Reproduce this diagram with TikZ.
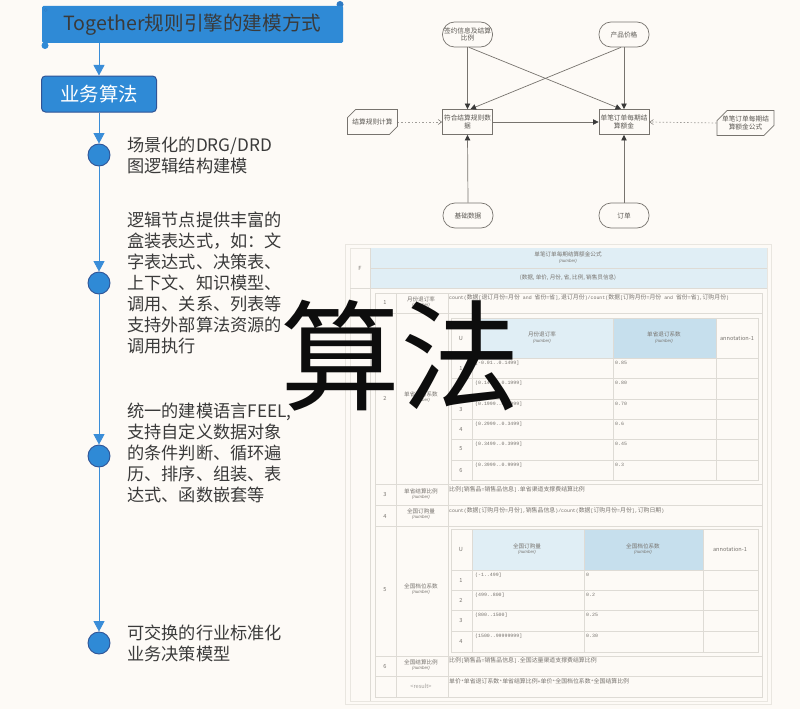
\documentclass[tikz,border=0pt]{standalone}
\usepackage{fontspec}
\setmainfont{Noto Sans CJK SC}
\setmonofont{Liberation Mono}
\newfontfamily\numfont{Liberation Sans}
\usetikzlibrary{arrows.meta,shapes.misc}
\definecolor{bgc}{HTML}{FDFAF6}
\definecolor{mainblue}{HTML}{2F8AD6}
\definecolor{darkblue}{HTML}{2F5496}
\definecolor{arrowblue}{HTML}{3A8DD8}
\definecolor{txt}{HTML}{3A3A3A}
\definecolor{flowline}{HTML}{77736E}
\definecolor{flowtxt}{HTML}{5A5752}
\definecolor{grid}{HTML}{DEDBD5}
\definecolor{gridout}{HTML}{E9E6E0}
\definecolor{hlight}{HTML}{E0EEF5}
\definecolor{hdark}{HTML}{C6DFED}
\definecolor{celltxt}{HTML}{77736E}
\newcommand{\mcn}[1]{{\rmfamily\fontsize{5.9}{6}\selectfont #1}}
\tikzset{
  x=1pt,y=-1pt,
  flowbase/.style={draw=flowline,line width=0.7pt,minimum width=50pt,minimum height=25pt,inner sep=0pt,align=center,text=flowtxt,font=\fontsize{6.7}{6}\selectfont},
  oval/.style={flowbase,rounded corners=12pt},
  rectbox/.style={flowbase,line width=0.9pt},
  notebox/.style={flowbase,chamfered rectangle,chamfered rectangle corners={north west,south east},chamfered rectangle xsep=5pt,chamfered rectangle ysep=5pt},
  flowarrow/.style={draw=flowline,line width=0.7pt,-{Triangle[length=5.5pt,width=5.5pt,color=txt]}},
  dotarrow/.style={draw=flowline!70,line width=0.7pt,dash pattern=on 1.5pt off 2pt,-{Straight Barb[length=3.5pt,width=5pt,color=flowline,line width=0.5pt]}},
  bluearrow/.style={draw=arrowblue,line width=0.9pt,-{Triangle[length=10.5pt,width=11pt,color=arrowblue]}},
  dotnode/.style={circle,draw=darkblue,fill=mainblue,line width=0.9pt,minimum size=22pt,inner sep=0pt},
  leftlabel/.style={anchor=north west,inner sep=0pt,align=left,text=txt,font=\fontsize{17.2}{20.9}\selectfont},
  cell/.style={inner sep=0pt,text=celltxt,font=\fontsize{5.6}{5.6}\selectfont},
  cellnum/.style={inner sep=0pt,text=celltxt,font=\fontsize{4.4}{4.4}\numfont\itshape},
  mono/.style={inner sep=0pt,anchor=west,text=celltxt,font=\fontsize{4.9}{5}\ttfamily},
  gridline/.style={draw=grid,line width=0.6pt},
}
\begin{document}
\begin{tikzpicture}
\useasboundingbox (0,0) rectangle (800,709);
\fill[bgc] (0,0) rectangle (800,709);

% ---------- outer decision table ----------
\draw[gridout,line width=0.8pt] (345.5,244.5) rectangle (771,704);
\draw[gridout,line width=0.6pt] (350,248) rectangle (767,701);
\fill[hlight] (370,248) rectangle (767,288);
\draw[gridline] (370,248) -- (370,701) (370,268) -- (767,268) (350,288) -- (767,288);
\node[cell] (fmark) at (360,268) {F};
\node[cell] (ftitle) at (568,254) {单笔订单每期结算额金公式};
\node[cellnum] (fnum) at (568,261) {(number)};
\node[cell] (fparam) at (568,278) {(数据, 单价, 月份, 省, 比例, 销售员信息)};

% context rows
\draw[gridline] (375,293) rectangle (762,697);
\draw[gridline] (396,293) -- (396,697) (448,293) -- (448,697);
\foreach \yy in {313,484,505,526,656,676}{\draw[gridline] (375,\yy) -- (762,\yy);}
\foreach \n/\yy/\nm/\yn in {1/303/月份退订率/299,2/398/单省退订系数/394,3/494/单省结算比例/491,4/516/全国订购量/511,5/590/全国档位系数/586,6/666/全国结算比例/662}{
  \node[cell] at (385,\yy) {\n};
  \node[cell] at (421,\yn) {\nm};
  \node[cellnum] at (421,\yn+6.5) {(number)};
}
\node[cell,text=celltxt!70] (res) at (421,686) {<result>};
\node[mono] (f1) at (449,298) {count(\mcn{数据}[\mcn{退订月份}=\mcn{月份} and \mcn{省份}=\mcn{省}],\mcn{退订月份})/count(\mcn{数据}[\mcn{订购月份}=\mcn{月份} and \mcn{省份}=\mcn{省}],\mcn{订购月份})};
\node[mono] (f3) at (449,489) {\mcn{比例}[\mcn{销售品}=\mcn{销售品信息}].\mcn{单省渠道支撑费结算比例}};
\node[mono] (f4) at (449,510) {count(\mcn{数据}[\mcn{订购月份}=\mcn{月份}],\mcn{销售品信息})/count(\mcn{数据}[\mcn{订购月份}=\mcn{月份}],\mcn{订购日期})};
\node[mono] (f6) at (449,660) {\mcn{比例}[\mcn{销售品}=\mcn{销售品信息}].\mcn{全国达量渠道支撑费结算比例}};
\node[mono] (f7) at (449,681) {\mcn{单价}*\mcn{单省退订系数}*\mcn{单省结算比例}+\mcn{单价}*\mcn{全国档位系数}*\mcn{全国结算比例}};

% nested table 1
\fill[hlight] (472,318) rectangle (613,358);
\fill[hdark] (613,318) rectangle (716,358);
\draw[gridline] (451,318) rectangle (758,480);
\foreach \xx in {472,613,716}{\draw[gridline] (\xx,318) -- (\xx,480);}
\foreach \yy in {358,378,399,419,439,460}{\draw[gridline] (451,\yy) -- (758,\yy);}
\node[cell] (ua) at (461,338) {U};
\node[cell] (ha1) at (542,334) {月份退订率};
\node[cellnum] (ha1n) at (542,341) {(number)};
\node[cell] (ha2) at (664,334) {单省退订系数};
\node[cellnum] (ha2n) at (664,341) {(number)};
\node[cell] (ha3) at (737,338) {annotation-1};
\foreach \n/\ytop/\rng/\val in {1/358/{[-0.01..0.1499]}/0.85,2/378/{(0.1499..0.1999]}/0.80,3/399/{(0.1999..0.2999]}/0.70,4/419/{(0.2999..0.3499]}/0.6,5/439/{(0.3499..0.3999]}/0.45,6/460/{(0.3999..0.9999]}/0.3}{
  \node[cell] at (461,\ytop+10) {\n};
  \node[mono] at (475,\ytop+5) {\rng};
  \node[mono] at (615,\ytop+5) {\val};
}

% nested table 2
\fill[hlight] (472,529) rectangle (584,570);
\fill[hdark] (584,529) rectangle (703,570);
\draw[gridline] (451,529) rectangle (758,652);
\foreach \xx in {472,584,703}{\draw[gridline] (\xx,529) -- (\xx,652);}
\foreach \yy in {570,590,610,631}{\draw[gridline] (451,\yy) -- (758,\yy);}
\node[cell] (ub) at (461,549.5) {U};
\node[cell] (hb1) at (527,546) {全国订购量};
\node[cellnum] (hb1n) at (527,552.5) {(number)};
\node[cell] (hb2) at (643,546) {全国档位系数};
\node[cellnum] (hb2n) at (643,552.5) {(number)};
\node[cell] (hb3) at (730,549.5) {annotation-1};
\foreach \n/\ytop/\rng/\val in {1/570/{(-1..499]}/0,2/590/{(499..800]}/0.2,3/610/{(800..1500]}/0.25,4/631/{(1500..99999999]}/0.30}{
  \node[cell] at (461,\ytop+10) {\n};
  \node[mono] at (475,\ytop+5) {\rng};
  \node[mono] at (586,\ytop+5) {\val};
}

% ---------- flow diagram ----------
\node[oval] (sign) at (467.5,34.5) {签约信息及结算\\比例};
\node[oval] (price) at (624,34.5) {产品价格};
\node[rectbox] (match) at (467.5,122) {符合结算规则数\\据};
\node[rectbox] (amount) at (624,122) {单笔订单每期结\\算额金};
\node[oval] (base) at (468,215.5) {基础数据};
\node[oval] (order) at (624,215.5) {订单};
\node[notebox] (calc) at (372.5,122) {结算规则计算};
\node[notebox] (form) at (745.5,123) {单笔订单每期结\\算额金公式};

\draw[flowarrow] (sign.south) -- (match.north);
\draw[flowarrow] (price.south) -- (amount.north);
\draw[flowarrow] ([xshift=1.5pt]sign.south) -- ([xshift=-3pt]amount.north);
\draw[flowarrow] ([xshift=-3pt]price.south) -- ([xshift=3pt]match.north);
\draw[flowarrow] (match.east) -- (amount.west);
\draw[flowarrow] (base.north) -- (match.south);
\draw[flowarrow] (order.north) -- (amount.south);
\draw[dotarrow] (calc.east) -- (match.west);
\draw[dotarrow] (form.west) -- (amount.east);

% ---------- left column ----------
\fill[mainblue] (45,45.5) circle (3.5pt);
\fill[mainblue!70!darkblue] (340,4.5) circle (3.5pt);
\node[fill=mainblue,rounded corners=1.5pt,minimum width=301pt,minimum height=37pt,inner sep=0pt,text=txt,font=\fontsize{19.6}{22}\selectfont] (banner) at (192.5,24.5) {\raisebox{-2pt}{Together规则引擎的建模方式}};
\draw[mainblue!80!darkblue,line width=0.5pt] (45.7,10) circle (1.6pt);
\node[draw=darkblue,fill=mainblue,line width=1pt,rounded corners=4pt,minimum width=115pt,minimum height=36pt,inner sep=0pt,text=white,font=\fontsize{19.4}{22}\selectfont] (algo) at (99,94) {业务算法};
\node[dotnode] (c1) at (99,155) {};
\node[dotnode] (c2) at (99,283) {};
\node[dotnode] (c3) at (99,456) {};
\node[dotnode] (c4) at (99,643) {};
\draw[bluearrow] (algo.north |- banner.south) -- (algo.north);
\draw[bluearrow] (algo.south) -- (c1.north);
\draw[bluearrow] (c1.south) -- (c2.north);
\draw[bluearrow] (c2.south) -- (c3.north);
\draw[bluearrow] (c3.south) -- (c4.north);

\node[leftlabel] (t1) at (127,137) {场景化的DRG/DRD\\图逻辑结构建模};
\node[leftlabel] (t2) at (127,212) {逻辑节点提供丰富的\\盒装表达式，如：文\\字表达式、决策表、\\上下文、知识模型、\\调用、关系、列表等\\支持外部算法资源的\\调用执行};
\node[leftlabel] (t3) at (127,403) {统一的建模语言FEEL,\\支持自定义数据对象\\的条件判断、循环遍\\历、排序、组装、表\\达式、函数嵌套等};
\node[leftlabel] (t4) at (127,625) {可交换的行业标准化\\业务决策模型};

% ---------- overlay ----------
\node[inner sep=0pt,text=black!95,font=\fontsize{120}{120}\selectfont] (big) at (400,356) {算法};
\end{tikzpicture}
\end{document}
